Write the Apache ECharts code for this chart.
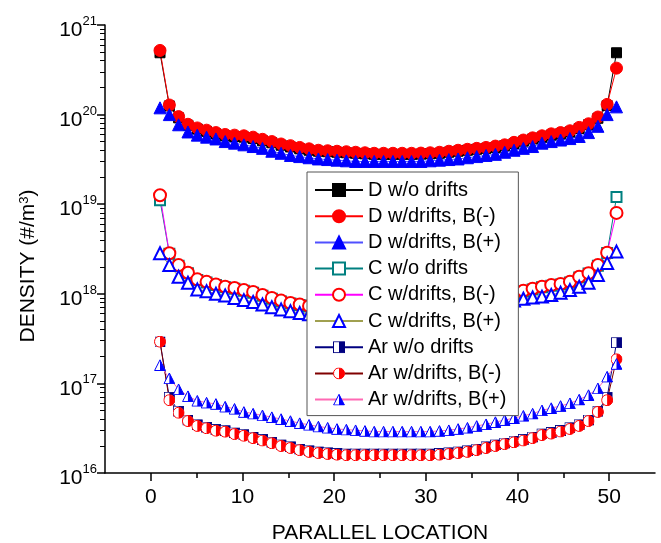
<!DOCTYPE html>
<html>
<head>
<meta charset="utf-8">
<script src="https://cdn.jsdelivr.net/npm/echarts@6/dist/echarts.min.js"></script>
<style>
  html, body { margin: 0; padding: 0; background: #fff; }
  #chart { width: 661px; height: 543px; }
</style>
</head>
<body>
<div id="chart"></div>
<script>
// cell positions along the field line
var locations = [1.00, 2.02, 3.03, 4.05, 5.07, 6.08, 7.10, 8.11, 9.13, 10.15,
  11.16, 12.18, 13.20, 14.21, 15.23, 16.24, 17.26, 18.28, 19.29, 20.31,
  21.33, 22.34, 23.36, 24.37, 25.39, 26.41, 27.42, 28.44, 29.46, 30.47,
  31.49, 32.51, 33.52, 34.54, 35.55, 36.57, 37.59, 38.60, 39.62, 40.64,
  41.65, 42.67, 43.68, 44.70, 45.72, 46.73, 47.75, 48.77, 49.78, 50.80];

var dNoDrift = [4.9e20, 1.25e20, 9.2e19, 7.6e19, 6.9e19, 6.5e19, 6.1e19, 5.8e19, 5.7e19, 5.6e19,
  5.4e19, 5.1e19, 4.85e19, 4.55e19, 4.35e19, 4.15e19, 4.0e19, 3.9e19, 3.85e19, 3.8e19,
  3.75e19, 3.7e19, 3.65e19, 3.6e19, 3.6e19, 3.6e19, 3.6e19, 3.6e19, 3.62e19, 3.65e19,
  3.7e19, 3.8e19, 3.9e19, 4.0e19, 4.1e19, 4.2e19, 4.3e19, 4.5e19, 4.75e19, 5.05e19,
  5.35e19, 5.6e19, 5.9e19, 6.1e19, 6.4e19, 7.0e19, 7.7e19, 9.1e19, 1.26e20, 4.9e20];
var dMinus = [5.2e20, 1.28e20, 9.5e19, 7.8e19, 7.1e19, 6.7e19, 6.3e19, 6.0e19, 5.9e19, 5.8e19,
  5.6e19, 5.3e19, 5.0e19, 4.7e19, 4.5e19, 4.3e19, 4.15e19, 4.0e19, 3.95e19, 3.9e19,
  3.85e19, 3.8e19, 3.75e19, 3.7e19, 3.7e19, 3.7e19, 3.7e19, 3.7e19, 3.72e19, 3.75e19,
  3.8e19, 3.9e19, 4.0e19, 4.1e19, 4.2e19, 4.3e19, 4.45e19, 4.6e19, 4.9e19, 5.2e19,
  5.5e19, 5.8e19, 6.1e19, 6.3e19, 6.6e19, 7.2e19, 7.9e19, 9.4e19, 1.3e20, 3.3e20];
var dPlus = [1.19e20, 1.0e20, 7.7e19, 6.4e19, 5.9e19, 5.6e19, 5.35e19, 5.0e19, 4.8e19, 4.6e19,
  4.4e19, 4.2e19, 3.9e19, 3.7e19, 3.5e19, 3.4e19, 3.3e19, 3.2e19, 3.15e19, 3.1e19,
  3.05e19, 3.0e19, 3.0e19, 3.0e19, 3.0e19, 3.0e19, 3.0e19, 3.0e19, 3.0e19, 3.05e19,
  3.1e19, 3.15e19, 3.2e19, 3.3e19, 3.4e19, 3.5e19, 3.6e19, 3.8e19, 4.0e19, 4.2e19,
  4.4e19, 4.8e19, 5.0e19, 5.2e19, 5.4e19, 5.7e19, 6.3e19, 7.4e19, 1.0e20, 1.22e20];

var cNoDrift = [1.11e19, 2.8e18, 2.05e18, 1.7e18, 1.43e18, 1.34e18, 1.25e18, 1.18e18, 1.14e18, 1.08e18,
  1.03e18, 9.5e17, 8.8e17, 8.2e17, 7.8e17, 7.5e17, 7.2e17, 7.0e17, 6.8e17, 6.7e17,
  6.6e17, 6.5e17, 6.4e17, 6.4e17, 6.4e17, 6.4e17, 6.4e17, 6.4e17, 6.5e17, 6.6e17,
  6.8e17, 7.0e17, 7.3e17, 7.6e17, 7.9e17, 8.3e17, 8.8e17, 9.4e17, 1.0e18, 1.06e18,
  1.12e18, 1.18e18, 1.23e18, 1.27e18, 1.34e18, 1.52e18, 1.68e18, 2.05e18, 2.85e18, 1.2e19];
var cMinus = [1.26e19, 2.83e18, 2.09e18, 1.72e18, 1.45e18, 1.36e18, 1.27e18, 1.2e18, 1.16e18, 1.1e18,
  1.05e18, 9.7e17, 9.0e17, 8.4e17, 7.9e17, 7.6e17, 7.3e17, 7.1e17, 6.9e17, 6.8e17,
  6.7e17, 6.6e17, 6.5e17, 6.5e17, 6.5e17, 6.5e17, 6.5e17, 6.5e17, 6.6e17, 6.7e17,
  6.9e17, 7.1e17, 7.4e17, 7.7e17, 8.0e17, 8.4e17, 8.9e17, 9.5e17, 1.02e18, 1.08e18,
  1.14e18, 1.2e18, 1.25e18, 1.29e18, 1.36e18, 1.55e18, 1.7e18, 2.09e18, 2.88e18, 8.0e18];
var cPlus = [2.83e18, 2.09e18, 1.55e18, 1.33e18, 1.12e18, 1.07e18, 1.0e18, 9.6e17, 9.0e17, 8.5e17,
  8.1e17, 7.6e17, 7.1e17, 6.7e17, 6.4e17, 6.1e17, 5.9e17, 5.7e17, 5.5e17, 5.4e17,
  5.3e17, 5.2e17, 5.2e17, 5.2e17, 5.2e17, 5.2e17, 5.2e17, 5.2e17, 5.3e17, 5.4e17,
  5.6e17, 5.8e17, 6.1e17, 6.4e17, 6.8e17, 7.2e17, 7.6e17, 8.0e17, 8.4e17, 8.8e17,
  9.1e17, 9.3e17, 9.7e17, 1.03e18, 1.1e18, 1.2e18, 1.33e18, 1.62e18, 2.2e18, 2.96e18];

var arNoDrift = [2.9e17, 7.0e16, 4.9e16, 3.9e16, 3.45e16, 3.25e16, 3.05e16, 2.97e16, 2.8e16, 2.68e16,
  2.52e16, 2.37e16, 2.21e16, 2.06e16, 1.96e16, 1.85e16, 1.77e16, 1.72e16, 1.68e16, 1.65e16,
  1.63e16, 1.63e16, 1.63e16, 1.63e16, 1.63e16, 1.63e16, 1.63e16, 1.63e16, 1.63e16, 1.63e16,
  1.65e16, 1.68e16, 1.72e16, 1.77e16, 1.85e16, 1.96e16, 2.06e16, 2.16e16, 2.27e16, 2.37e16,
  2.52e16, 2.73e16, 2.83e16, 2.98e16, 3.2e16, 3.45e16, 3.9e16, 4.9e16, 7.0e16, 2.85e17];
var arMinus = [2.92e17, 6.5e16, 4.7e16, 3.8e16, 3.35e16, 3.16e16, 2.96e16, 2.89e16, 2.72e16, 2.6e16,
  2.45e16, 2.3e16, 2.15e16, 2.0e16, 1.9e16, 1.8e16, 1.72e16, 1.67e16, 1.63e16, 1.6e16,
  1.58e16, 1.58e16, 1.58e16, 1.58e16, 1.58e16, 1.58e16, 1.58e16, 1.58e16, 1.58e16, 1.58e16,
  1.6e16, 1.63e16, 1.67e16, 1.72e16, 1.8e16, 1.9e16, 2.0e16, 2.1e16, 2.2e16, 2.3e16,
  2.45e16, 2.65e16, 2.75e16, 2.9e16, 3.1e16, 3.35e16, 3.8e16, 4.8e16, 6.5e16, 1.86e17];
var arPlus = [1.6e17, 1.14e17, 8.6e16, 7.2e16, 6.4e16, 6.1e16, 5.9e16, 5.5e16, 5.2e16, 4.8e16,
  4.6e16, 4.4e16, 4.2e16, 4.0e16, 3.8e16, 3.6e16, 3.45e16, 3.3e16, 3.2e16, 3.1e16,
  3.05e16, 3.0e16, 2.95e16, 2.9e16, 2.9e16, 2.9e16, 2.9e16, 2.9e16, 2.9e16, 2.9e16,
  2.95e16, 3.0e16, 3.1e16, 3.2e16, 3.35e16, 3.5e16, 3.7e16, 3.9e16, 4.1e16, 4.35e16,
  4.6e16, 5.0e16, 5.3e16, 5.6e16, 6.0e16, 6.6e16, 7.4e16, 8.8e16, 1.19e17, 1.65e17];

var seriesNames = ['D w/o drifts', 'D w/drifts, B(-)', 'D w/drifts, B(+)',
  'C w/o drifts', 'C w/drifts, B(-)', 'C w/drifts, B(+)',
  'Ar w/o drifts', 'Ar w/drifts, B(-)', 'Ar w/drifts, B(+)'];

var xMajorTicks = [0, 10, 20, 30, 40, 50];
var xMinorTicks = [5, 15, 25, 35, 45];
var yMinorTicks = [];
[1e16, 1e17, 1e18, 1e19, 1e20].forEach(function (base) {
  for (var k = 2; k <= 9; k++) {
    yMinorTicks.push(k * base);
  }
});

var FONT = 'Liberation Sans, Arial, sans-serif';

function svgSymbol(svg) {
  return 'image://data:image/svg+xml;charset=utf-8,' + encodeURIComponent(svg);
}

var halfSquare = svgSymbol("<svg xmlns='http://www.w3.org/2000/svg' width='12' height='12'>" +
  "<rect x='0.5' y='0.5' width='11' height='11' fill='#fff' stroke='#000080'/>" +
  "<rect x='6' y='0.5' width='5.5' height='11' fill='#000080'/></svg>");
var halfCircle = svgSymbol("<svg xmlns='http://www.w3.org/2000/svg' width='12' height='12'>" +
  "<circle cx='6' cy='6' r='5.5' fill='#fff' stroke='#ff0000'/>" +
  "<path d='M6 0.5 A5.5 5.5 0 0 1 6 11.5 Z' fill='#ff0000'/></svg>");
var halfTriangle = svgSymbol("<svg xmlns='http://www.w3.org/2000/svg' width='12' height='12'>" +
  "<polygon points='6,0.7 11.4,11.4 0.6,11.4' fill='#fff' stroke='#0000ff'/>" +
  "<polygon points='6,0.7 11.4,11.4 6,11.4' fill='#0000ff'/></svg>");

function pairs(values) {
  return values.map(function (v, i) {
    return [locations[i], v];
  });
}

function makeSeries(name, values, lineColor, symbol, symbolColor, size) {
  return {
    name: name,
    type: 'line',
    data: pairs(values),
    symbol: symbol,
    symbolSize: size,
    showAllSymbol: true,
    animation: false,
    lineStyle: { color: lineColor, width: 1 },
    itemStyle: { color: symbolColor, borderColor: symbolColor, borderWidth: 1 },
    emphasis: { disabled: true }
  };
}

var series = [
  makeSeries(seriesNames[0], dNoDrift, '#000000', 'rect', '#000000', 10),
  makeSeries(seriesNames[1], dMinus, '#ff0000', 'circle', '#ff0000', 12),
  makeSeries(seriesNames[2], dPlus, '#5050ff', 'triangle', '#0000ff', 12),
  makeSeries(seriesNames[3], cNoDrift, '#008080', 'emptyRect', '#008080', 10),
  makeSeries(seriesNames[4], cMinus, '#ff00ff', 'emptyCircle', '#ff0000', 12),
  makeSeries(seriesNames[5], cPlus, '#a0a050', 'emptyTriangle', '#0000ff', 12),
  makeSeries(seriesNames[6], arNoDrift, '#000080', halfSquare, '#000080', 11),
  makeSeries(seriesNames[7], arMinus, '#800000', halfCircle, '#ff0000', 12),
  makeSeries(seriesNames[8], arPlus, '#ff69b4', halfTriangle, '#0000ff', 12)
];

var myChart = echarts.init(document.getElementById('chart'));

var option = {
  backgroundColor: '#fff',
  animation: false,
  grid: { left: 105, right: 6, top: 25, bottom: 70, containLabel: false, outerBoundsMode: 'none' },
  legend: {
    orient: 'vertical',
    left: 307,
    top: 172,
    width: 205,
    padding: [8, 12, 6, 7],
    itemWidth: 48,
    itemHeight: 15,
    itemGap: 6.2,
    backgroundColor: '#fff',
    borderColor: '#555',
    borderWidth: 1,
    borderRadius: 0,
    data: seriesNames,
    textStyle: { fontFamily: FONT, fontSize: 20, color: '#000', lineHeight: 20 }
  },
  xAxis: [
    {
      type: 'value',
      min: -5,
      max: 55,
      name: 'PARALLEL LOCATION',
      nameLocation: 'middle',
      nameGap: 50,
      nameTextStyle: { fontFamily: FONT, fontSize: 21, color: '#000' },
      axisLine: { onZero: false, lineStyle: { color: '#000', width: 1.5 } },
      axisTick: { show: true, inside: false, length: 8, customValues: xMajorTicks, lineStyle: { color: '#000', width: 1.5 } },
      axisLabel: { customValues: xMajorTicks, margin: 14, fontFamily: FONT, fontSize: 21, color: '#000' },
      splitLine: { show: false }
    },
    {
      type: 'value',
      min: -5,
      max: 55,
      position: 'bottom',
      axisLine: { show: false, onZero: false },
      axisTick: { show: true, inside: false, length: 5, customValues: xMinorTicks, lineStyle: { color: '#000', width: 1.5 } },
      axisLabel: { show: false },
      splitLine: { show: false }
    }
  ],
  yAxis: [
    {
      type: 'log',
      logBase: 10,
      min: 1e16,
      max: 1e21,
      name: 'DENSITY (#/m{s|3})',
      nameLocation: 'middle',
      nameGap: 66,
      nameTextStyle: {
        fontFamily: FONT, fontSize: 21, color: '#000', padding: [0, 34, 0, 0],
        rich: { s: { fontFamily: FONT, fontSize: 13, color: '#000', verticalAlign: 'top' } }
      },
      axisLine: { onZero: false, lineStyle: { color: '#000', width: 1.5 } },
      axisTick: { show: true, inside: false, length: 8, lineStyle: { color: '#000', width: 1.5 } },
      axisLabel: {
        margin: 8,
        padding: [6, 0, 0, 0],
        formatter: function (v) {
          var e = Math.round(Math.log10(v));
          return '{b|10}{s|' + e + '}';
        },
        rich: {
          b: { fontFamily: FONT, fontSize: 21, color: '#000', verticalAlign: 'bottom', lineHeight: 26 },
          s: { fontFamily: FONT, fontSize: 13, color: '#000', verticalAlign: 'top' }
        }
      },
      splitLine: { show: false },
      minorTick: { show: false }
    },
    {
      type: 'log',
      logBase: 10,
      min: 1e16,
      max: 1e21,
      position: 'left',
      axisLine: { show: false, onZero: false },
      axisTick: { show: true, inside: false, length: 5, customValues: yMinorTicks, lineStyle: { color: '#000', width: 1 } },
      axisLabel: { show: false },
      splitLine: { show: false }
    }
  ],
  series: series
};

myChart.setOption(option);
</script>
</body>
</html>
